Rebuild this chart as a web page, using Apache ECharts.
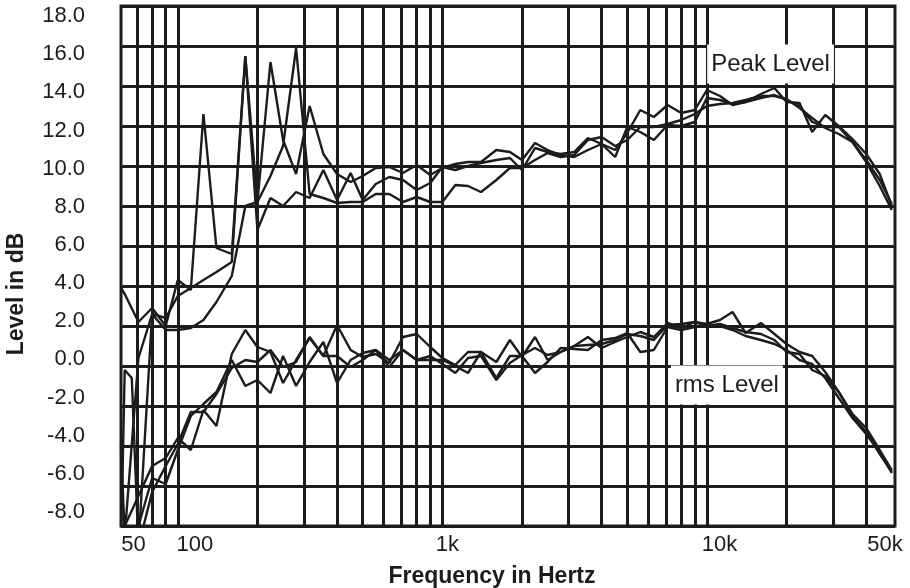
<!DOCTYPE html>
<html>
<head>
<meta charset="utf-8">
<script src="https://cdn.jsdelivr.net/npm/echarts@6/dist/echarts.min.js"></script>
<style>
html,body{margin:0;padding:0;background:#fff;}
#chart{width:910px;height:588px;}
</style>
</head>
<body>
<div id="chart"></div>
<script>
// Frequencies (Hz), roughly 1/6-octave points
const freqs = [61, 63, 67, 71, 80, 90, 100, 112, 125, 140, 160, 180, 200, 224, 250, 280, 315, 355, 400, 450, 500,
  560, 630, 710, 800, 900, 1000, 1120, 1250, 1400, 1600, 1800, 2000, 2240, 2500, 2800, 3150, 3550, 4000, 4500, 5000,
  5600, 6300, 7100, 8000, 9000, 10000, 11200, 12500, 14000, 16000, 18000, 20000, 22400, 25000, 28000, 31500, 35500, 40000, 45000, 50000];

// Peak level curves (dB); null = no reading at that frequency
const peak1 = [3.9, 3.6, null, 2.2, 2.9, 2.0, 4.3, 3.8, 12.6, 5.9, 5.6, 15.5, 8.2, 15.2, 11.3, 9.6, 13.0, 10.6, 9.6, 9.2, 9.5,
  9.9, 9.95, 9.65, 10.05, 9.55, 9.9, 10.1, 10.2, 10.2, 10.8, 10.7, 10.3, 11.15, 10.8, 10.55, 10.45, 10.8, 11.1, 10.8, 11.65,
  12.8, 12.45, 13.05, 12.65, 12.8, 13.8, 13.5, 13.05, 13.2, 13.4, 13.55, 13.3, 13.0, 12.2, 11.95, 11.95, 11.2, 10.2, 9.0, 7.8];
const peak2 = [-9, -0.2, -0.6, -9, 2.6, 2.4, 3.5, 3.9, 4.3, 4.7, 5.2, 15.5, 6.8, 8.4, 8.0, 8.7, 8.4, 9.8, 8.3, 9.65, 8.3,
  9.1, 9.45, 9.3, 8.8, 9.15, 9.95, 9.8, 10.0, 10.15, 10.3, 10.4, 9.8, 10.9, 10.7, 10.6, 10.7, 11.4, 11.1, 10.45, 11.95,
  11.7, 11.3, 12.05, 12.0, 12.2, 13.4, 13.3, 13.1, 13.2, 13.6, 13.9, 13.2, 13.15, 11.7, 12.55, 12.0, 11.35, 10.6, 9.6, 8.0];
const peak3 = [-4, -8.5, null, 0.4, 2.6, 1.8, 1.8, 1.9, 2.3, 3.2, 4.5, 8.0, 8.2, 9.5, 11.0, 15.9, 8.6, 8.4, 8.15, 8.2, 8.2,
  8.6, 8.6, 8.2, 8.45, 8.2, 8.2, 9.05, 9.0, 8.7, 9.3, 9.9, 9.9, 10.3, 10.65, 10.45, 10.55, 11.3, 11.45, 11.0, 11.3,
  11.95, 11.95, 12.1, 12.3, 12.6, 13.0, 13.1, 13.15, 13.3, 13.5, 13.5, 13.35, 12.9, 12.4, 11.9, 11.6, 11.2, 10.3, 9.3, 8.1];

// rms level curves (dB)
const rms1 = [-10, -8.0, null, -6.5, -5.0, -4.6, -3.6, -4.2, -2.2, -3.0, 0.6, 1.8, 0.95, 0.7, -0.85, 0.3, 1.4, 0.5, 2.05, 0.8, 0.45,
  0.6, 0.15, 1.45, 1.6, 0.95, 0.4, 0.05, 0.7, 0.7, 0.2, 1.3, 0.45, 1.45, 0.3, 0.7, 1.0, 1.45, 0.9, 1.2, 1.45,
  1.7, 1.45, 2.15, 1.9, 2.2, 2.1, 2.3, 2.7, 1.65, 2.15, 1.6, 1.1, 0.7, 0.5, -0.3, -1.3, -2.4, -3.1, -4.2, -5.2];
const rms2 = [-12, -10, null, -8.0, -5.6, -5.9, -4.2, -2.5, -1.9, -1.3, 0.3, -1.0, -0.7, -1.35, 0.5, -1.0, 0.2, 1.2, -0.85, 0.3, 0.65,
  0.8, -0.05, 0.8, 0.3, 0.3, 0.3, 0.0, -0.35, 0.7, -0.6, 0.5, 0.5, -0.35, 0.2, 0.9, 0.85, 0.8, 1.3, 1.4, 1.65,
  0.7, 0.8, 1.95, 1.8, 1.95, 2.0, 2.0, 1.8, 1.5, 1.3, 1.1, 0.8, 0.3, 0.1, -0.6, -1.6, -2.6, -3.4, -4.3, -5.35];
const rms3 = [-13, -11, null, -9, -6.3, -5.0, -3.9, -2.3, -2.3, -1.4, -0.1, 0.3, 0.2, 0.8, -0.05, 0.2, 1.45, 0.5, 0.5, -0.05, 0.3,
  0.8, 0.3, 0.8, 0.3, 0.5, 0.1, -0.35, 0.4, 0.5, -0.7, 0.15, 0.55, 0.9, 0.55, 0.7, 1.0, 1.05, 1.1, 1.3, 1.6,
  1.5, 1.3, 2.05, 2.1, 2.2, 2.0, 2.1, 1.9, 1.7, 1.6, 1.3, 0.7, 0.6, -0.2, -0.5, -1.3, -2.5, -3.3, -4.4, -5.3];

// Vertical grid frequencies
const gridFreqs = [70, 80, 90, 100, 200, 300, 400, 500, 600, 700, 800, 900, 1000,
  2000, 3000, 4000, 5000, 6000, 7000, 8000, 9000, 10000, 20000, 30000, 40000];

// Y tick values and X tick labels (left edge, 100, 1k, 10k, right edge)
const yTicks = [18, 16, 14, 12, 10, 8, 6, 4, 2, 0, -2, -4, -6, -8];
const xTickLabels = ['50', '100', '1k', '10k', '50k'];

// Curve annotations
const annotations = [
  { text: 'Peak Level', freq: 17400, level: 15.1 },
  { text: 'rms Level', freq: 11900, level: -0.95 }
];

const INK = '#1c1c1c';
const FONT = 'Liberation Sans, Arial, Helvetica, sans-serif';
const TICK_FS = 22;

function pairs(vals) { return freqs.map((f, i) => [f, vals[i]]); }

// y labels in the original sit on an evenly spaced column slightly off the grid lines
const yRich = {};
yTicks.forEach((v, i) => {
  const d = 10 - 0.923 * (18 - v);
  yRich['y' + i] = {
    fontFamily: FONT, fontSize: TICK_FS, color: INK,
    padding: d >= 0 ? [2 * d, 0, 0, 0] : [0, 0, -2 * d, 0]
  };
});

const curveList = [peak1, peak2, peak3, rms1, rms2, rms3];
const series = [{
  type: 'line', data: [], z: 1, silent: true,
  markLine: {
    silent: true, symbol: ['none', 'none'], animation: false,
    label: { show: false },
    lineStyle: { color: INK, width: 3, type: 'solid' },
    data: gridFreqs.map(f => ({ xAxis: f }))
  }
}];
curveList.forEach(c => series.push({
  type: 'line', data: pairs(c), showSymbol: false, symbol: 'none', z: 3, connectNulls: true,
  lineStyle: { color: INK, width: 2.4 }, animation: false, clip: true
}));
series.push({
  type: 'scatter', data: [], z: 5, silent: true,
  markPoint: {
    symbol: 'rect', symbolSize: 0, animation: false,
    label: {
      show: true, position: 'inside', color: INK, fontFamily: FONT, fontSize: 24,
      backgroundColor: '#fff', padding: [6, 4, 9, 4], lineHeight: 24,
      formatter: p => p.name
    },
    data: annotations.map(a => ({ name: a.text, coord: [a.freq, a.level] }))
  }
});

const chart = echarts.init(document.getElementById('chart'));
chart.setOption({
  backgroundColor: '#fff',
  animation: false,
  grid: {
    left: 121, top: 6, width: 774, height: 520, containLabel: false, outerBoundsMode: 'none',
    show: true, borderColor: INK, borderWidth: 3, backgroundColor: 'transparent'
  },
  xAxis: {
    type: 'log', logBase: 10, min: 61, max: 51400,
    name: 'Frequency in Hertz', nameLocation: 'middle', nameGap: 39,
    nameTextStyle: { fontFamily: FONT, fontWeight: 'bold', fontSize: 23, color: INK, padding: [0, 32, 0, 0] },
    axisLine: { show: false }, axisTick: { show: false }, splitLine: { show: false },
    axisLabel: {
      showMinLabel: true, showMaxLabel: true, margin: 8, fontFamily: FONT, fontSize: TICK_FS, color: INK,
      formatter: function (v) {
        if (v < 80) return '{a|' + xTickLabels[0] + '}';
        if (v < 500) return '{b|' + xTickLabels[1] + '}';
        if (v < 5000) return '{c|' + xTickLabels[2] + '}';
        if (v < 30000) return '{d|' + xTickLabels[3] + '}';
        return '{e|' + xTickLabels[4] + '}';
      },
      rich: {
        a: { fontFamily: FONT, fontSize: TICK_FS, color: INK, padding: [0, 0, 0, 25] },
        b: { fontFamily: FONT, fontSize: TICK_FS, color: INK, padding: [0, 0, 0, 34] },
        c: { fontFamily: FONT, fontSize: TICK_FS, color: INK, padding: [0, 0, 0, 10] },
        d: { fontFamily: FONT, fontSize: TICK_FS, color: INK, padding: [0, 0, 0, 25] },
        e: { fontFamily: FONT, fontSize: TICK_FS, color: INK, padding: [0, 20, 0, 0] }
      }
    }
  },
  yAxis: {
    type: 'value', min: -8, max: 18, interval: 2,
    name: 'Level in dB', nameLocation: 'middle', nameGap: 93, nameRotate: 90,
    nameTextStyle: { fontFamily: FONT, fontWeight: 'bold', fontSize: 23, color: INK, padding: [0, 56, 0, 0] },
    axisLine: { show: false }, axisTick: { show: false },
    splitLine: { show: true, lineStyle: { color: INK, width: 3 } },
    axisLabel: {
      margin: 36, fontFamily: FONT, fontSize: TICK_FS, color: INK,
      formatter: function (v) {
        const i = yTicks.indexOf(v);
        return '{y' + i + '|' + v.toFixed(1) + '}';
      },
      rich: yRich
    }
  },
  series: series
});
</script>
</body>
</html>
